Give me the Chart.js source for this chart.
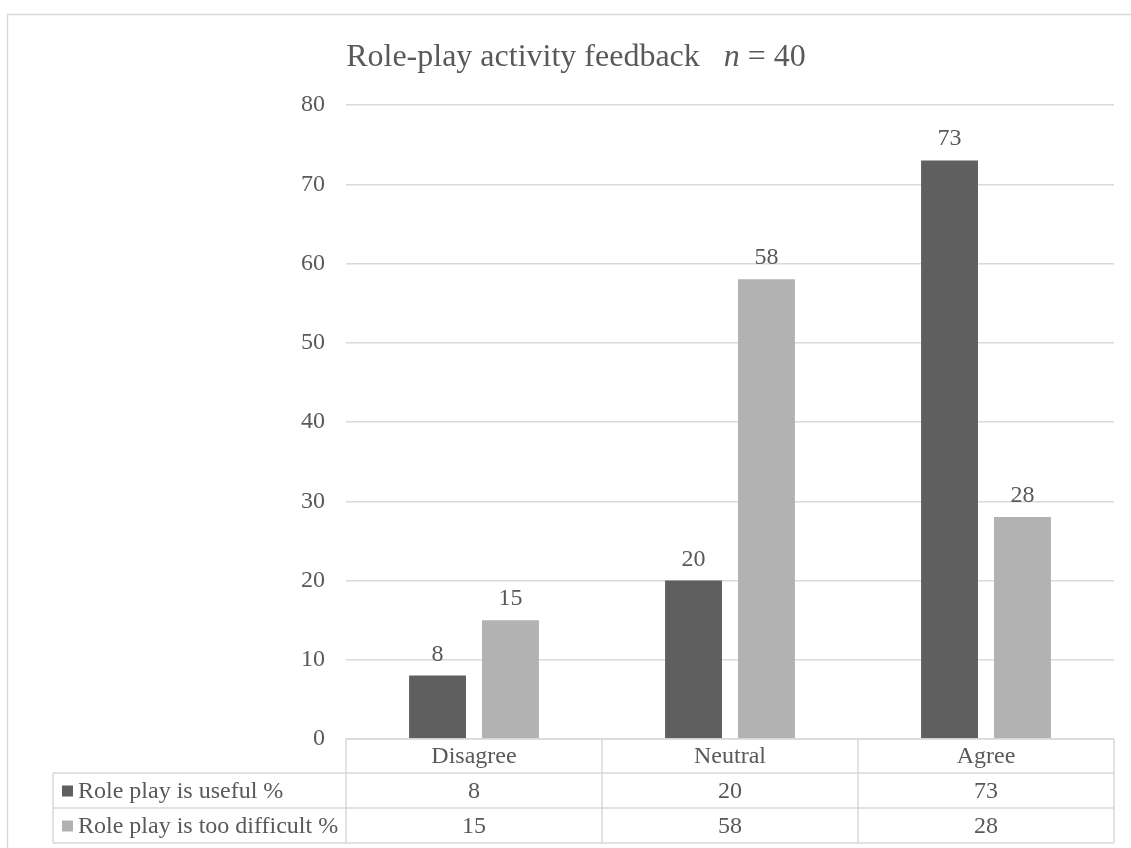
<!DOCTYPE html>
<html>
<head>
<meta charset="utf-8">
<title>Role-play activity feedback</title>
<script src="https://cdn.jsdelivr.net/npm/chart.js@4"></script>
<style>
  body { margin: 0; background: #fff; }
  canvas { display: block; }
</style>
</head>
<body>
<canvas id="chart" width="1131" height="848"></canvas>
<script>
const categories = ['Disagree', 'Neutral', 'Agree'];
const useful = [8, 20, 73];
const difficult = [15, 58, 28];
const seriesNames = ['Role play is useful %', 'Role play is too difficult %'];
const yTicks = [0, 10, 20, 30, 40, 50, 60, 70, 80];

const FONT = '"Liberation Serif", "Times New Roman", serif';
const TEXT = '#595959';
const LINE = '#d9d9d9';
const DARK = '#5f5f5f';
const LIGHT = '#b2b2b2';

// frame round the whole chart + title with italic n
const framePlugin = {
  id: 'frame',
  beforeDraw(chart) {
    const ctx = chart.ctx;
    ctx.save();
    ctx.fillStyle = '#fff';
    ctx.fillRect(0, 0, chart.width, chart.height);
    ctx.strokeStyle = LINE;
    ctx.lineWidth = 1.5;
    ctx.strokeRect(7.5, 14.5, chart.width + 20, chart.height + 20);

    const parts = [
      { t: 'Role-play activity feedback   ', f: '32px ' + FONT },
      { t: 'n', f: 'italic 32px ' + FONT },
      { t: ' = 40', f: '32px ' + FONT }
    ];
    let total = 0;
    parts.forEach(p => { ctx.font = p.f; p.w = ctx.measureText(p.t).width; total += p.w; });
    let x = 576 - total / 2;
    ctx.fillStyle = TEXT;
    ctx.textBaseline = 'alphabetic';
    ctx.textAlign = 'left';
    parts.forEach(p => { ctx.font = p.f; ctx.fillText(p.t, x, 66); x += p.w; });
    ctx.restore();
  }
};

// value labels above the bars
const valueLabels = {
  id: 'valueLabels',
  afterDatasetsDraw(chart) {
    const ctx = chart.ctx;
    ctx.save();
    ctx.font = '24px ' + FONT;
    ctx.fillStyle = TEXT;
    ctx.textAlign = 'center';
    ctx.textBaseline = 'alphabetic';
    chart.data.datasets.forEach((ds, i) => {
      chart.getDatasetMeta(i).data.forEach((bar, j) => {
        ctx.fillText(ds.data[j], bar.x, bar.y - 15);
      });
    });
    ctx.restore();
  }
};

// data table under the plot
const dataTable = {
  id: 'dataTable',
  afterDraw(chart) {
    const ctx = chart.ctx;
    const area = chart.chartArea;
    const xs = chart.scales.x;
    const half = (area.right - area.left) / categories.length / 2;
    const tableLeft = 53;
    const rows = [area.bottom, area.bottom + 34, area.bottom + 69, area.bottom + 104];

    ctx.save();
    ctx.strokeStyle = LINE;
    ctx.lineWidth = 1.5;
    ctx.beginPath();
    // horizontal lines
    ctx.moveTo(area.left, rows[0]); ctx.lineTo(area.right, rows[0]);
    for (let r = 1; r < rows.length; r++) {
      ctx.moveTo(tableLeft, rows[r]); ctx.lineTo(area.right, rows[r]);
    }
    // vertical lines
    ctx.moveTo(tableLeft, rows[1]); ctx.lineTo(tableLeft, rows[3]);
    categories.forEach((c, i) => {
      const cx = xs.getPixelForValue(i);
      ctx.moveTo(cx - half, rows[0]); ctx.lineTo(cx - half, rows[3]);
    });
    ctx.moveTo(area.right, rows[0]); ctx.lineTo(area.right, rows[3]);
    ctx.stroke();

    ctx.font = '24px ' + FONT;
    ctx.fillStyle = TEXT;
    ctx.textBaseline = 'middle';
    ctx.textAlign = 'center';
    categories.forEach((c, i) => {
      const cx = xs.getPixelForValue(i);
      ctx.fillText(c, cx, (rows[0] + rows[1]) / 2 + 1);
      ctx.fillText(useful[i], cx, (rows[1] + rows[2]) / 2 + 1);
      ctx.fillText(difficult[i], cx, (rows[2] + rows[3]) / 2 + 1);
    });

    // row headers with colour keys
    const keys = [DARK, LIGHT];
    ctx.textAlign = 'left';
    seriesNames.forEach((name, r) => {
      const cy = (rows[r + 1] + rows[r + 2]) / 2;
      ctx.fillStyle = keys[r];
      ctx.fillRect(62, cy - 5, 11, 11);
      ctx.fillStyle = TEXT;
      ctx.fillText(name, 78, cy + 1);
    });
    ctx.restore();
  }
};

new Chart(document.getElementById('chart'), {
  type: 'bar',
  data: {
    labels: categories,
    datasets: [
      { label: seriesNames[0], data: useful, backgroundColor: DARK },
      { label: seriesNames[1], data: difficult, backgroundColor: LIGHT }
    ]
  },
  options: {
    responsive: false,
    animation: false,
    categoryPercentage: 0.57,
    barPercentage: 0.78,
    layout: { padding: { top: 105, bottom: 109, left: 0, right: 17 } },
    plugins: {
      legend: { display: false },
      title: { display: false },
      tooltip: { enabled: false }
    },
    scales: {
      x: { display: false },
      y: {
        min: 0,
        max: 80,
        afterBuildTicks: (scale) => { scale.ticks = yTicks.map(v => ({ value: v })); },
        afterFit: (scale) => { scale.width = 346; },
        border: { display: false },
        grid: { color: LINE, lineWidth: 1.5, drawTicks: false },
        ticks: { color: TEXT, font: { family: FONT, size: 24 }, padding: 21 }
      }
    }
  },
  plugins: [framePlugin, valueLabels, dataTable]
});
</script>
</body>
</html>
